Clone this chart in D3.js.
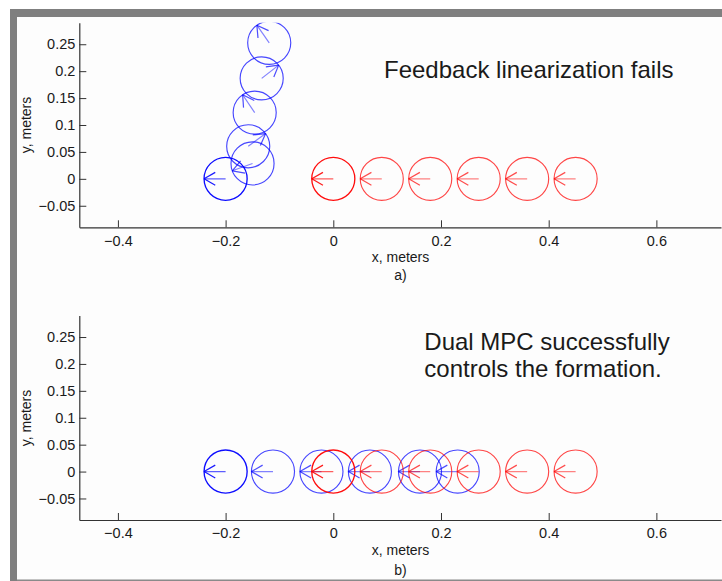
<!DOCTYPE html>
<html>
<head>
<meta charset="utf-8">
<script src="https://cdn.jsdelivr.net/npm/d3@7"></script>
<style>
  html, body { margin: 0; padding: 0; background: #ffffff; }
  svg { display: block; }
  text { font-family: "Liberation Sans", Arial, Helvetica, sans-serif; fill: #1a1a1a; }
</style>
</head>
<body>
<svg id="chart" width="722" height="581"></svg>
<script>
// ---- data ----
const xTicks = [-0.4, -0.2, 0, 0.2, 0.4, 0.6];
const yTicks = [-0.05, 0, 0.05, 0.1, 0.15, 0.2, 0.25];
const robotRadius = 0.04;

// panel a) feedback linearization
const topBlueX = [-0.2, -0.150, -0.158, -0.146, -0.133, -0.119];
const topBlueY = [0, 0.0286, 0.0605, 0.123, 0.1866, 0.2526];
const topBlueHeading = [180, 200, 36, 124, 38, 125];
const topRedX = [0, 0.09, 0.18, 0.27, 0.36, 0.45];
const topRedY = [0, 0, 0, 0, 0, 0];
const topRedHeading = [180, 180, 180, 180, 180, 180];

// panel b) dual MPC
const botBlueX = [-0.2, -0.112, -0.022, 0.068, 0.161, 0.231];
const botBlueY = [0, 0, 0, 0, 0, 0];
const botBlueHeading = [180, 180, 180, 180, 180, 180];
const botRedX = [0, 0.09, 0.18, 0.27, 0.36, 0.45];
const botRedY = [0, 0, 0, 0, 0, 0];
const botRedHeading = [180, 180, 180, 180, 180, 180];

const svg = d3.select("#chart");

// frame
svg.append("rect").attr("x", 10).attr("y", 9).attr("width", 712).attr("height", 572).attr("fill", "#fdfdfd");
svg.append("rect").attr("x", 10).attr("y", 9).attr("width", 712).attr("height", 8).attr("fill", "#7f7f7f");
svg.append("rect").attr("x", 10).attr("y", 9).attr("width", 7).attr("height", 572).attr("fill", "#7f7f7f");
svg.append("rect").attr("x", 17).attr("y", 579.5).attr("width", 705).attr("height", 1.5).attr("fill", "#8a8a8a");

const xScale = d3.scaleLinear().domain([-0.4717, 0.72]).range([79.3, 721]);
const fmt = d => (d < 0 ? "\u2212" : "") + String(Math.abs(d));

function drawPanel(cfg) {
  const yScale = d3.scaleLinear().domain([-0.09, 0.29]).range([cfg.bottom, cfg.top]);
  const g = svg.append("g");
  const clipId = "clip" + cfg.id;
  svg.append("clipPath").attr("id", clipId).append("rect")
    .attr("x", 79.3).attr("y", cfg.top).attr("width", 722 - 79.3).attr("height", cfg.bottom - cfg.top);

  // axes
  const xAxis = d3.axisBottom(xScale).tickValues(xTicks).tickSizeInner(-7).tickSizeOuter(0).tickPadding(8).tickFormat(fmt);
  const gx = g.append("g").attr("transform", `translate(0,${cfg.bottom})`).call(xAxis);
  const yAxis = d3.axisLeft(yScale).tickValues(yTicks).tickSizeInner(-7).tickSizeOuter(0).tickPadding(4).tickFormat(fmt);
  const gy = g.append("g").attr("transform", `translate(79.3,0)`).call(yAxis);
  [gx, gy].forEach(a => {
    a.select(".domain").attr("stroke", "#333").attr("stroke-width", 1.2);
    a.selectAll(".tick line").attr("stroke", "#333").attr("stroke-width", 1);
    a.selectAll(".tick text").attr("font-size", 14.5).attr("fill", "#1a1a1a")
      .attr("font-family", '"Liberation Sans", Arial, Helvetica, sans-serif');
  });

  const pxPerM = xScale(1) - xScale(0);
  const plot = g.append("g").attr("clip-path", `url(#${clipId})`);

  function robots(xs, ys, hs, color) {
    const data = xs.map((x, i) => ({x, y: ys[i], h: hs[i] * Math.PI / 180, i}));
    const grp = plot.append("g");
    grp.selectAll("circle").data(data).join("circle")
      .attr("cx", d => xScale(d.x)).attr("cy", d => yScale(d.y))
      .attr("r", robotRadius * pxPerM)
      .attr("fill", "none").attr("stroke", color)
      .attr("stroke-width", d => d.i === 0 ? 1.35 : 1.15)
      .attr("stroke-opacity", d => d.i === 0 ? 0.95 : 0.72);
    const bl = 0.6 * robotRadius, ba = Math.PI / 6;
    data.forEach(d => {
      const tx = d.x + robotRadius * Math.cos(d.h), ty = d.y + robotRadius * Math.sin(d.h);
      const op = d.i === 0 ? 0.9 : 0.7;
      grp.append("line")
        .attr("x1", xScale(d.x)).attr("y1", yScale(d.y))
        .attr("x2", xScale(tx)).attr("y2", yScale(ty))
        .attr("stroke", color).attr("stroke-width", 1.2).attr("stroke-opacity", op * 0.7);
      [-1, 1].forEach(s => {
        const a = d.h + Math.PI + s * ba;
        grp.append("line")
          .attr("x1", xScale(tx)).attr("y1", yScale(ty))
          .attr("x2", xScale(tx + bl * Math.cos(a))).attr("y2", yScale(ty + bl * Math.sin(a)))
          .attr("stroke", color).attr("stroke-width", 1.2).attr("stroke-opacity", op);
      });
    });
  }
  robots(cfg.blueX, cfg.blueY, cfg.blueH, "#0000ff");
  robots(cfg.redX, cfg.redY, cfg.redH, "#ff0000");

  // labels
  g.append("text").attr("transform", `translate(31,${cfg.yLabelY}) rotate(-90)`)
    .attr("text-anchor", "middle").attr("font-size", 14).text("y, meters");
  g.append("text").attr("x", 400.5).attr("y", cfg.xLabelY).attr("text-anchor", "middle")
    .attr("font-size", 14).text("x, meters");
  g.append("text").attr("x", 400.5).attr("y", cfg.subY).attr("text-anchor", "middle")
    .attr("font-size", 14).text(cfg.sub);
  cfg.note.forEach((line, i) => {
    g.append("text").attr("x", cfg.noteX).attr("y", cfg.noteY + i * 27.3)
      .attr("font-size", 24).text(line);
  });
}

drawPanel({
  id: "a", top: 22.7, bottom: 227.3, yLabelY: 125, xLabelY: 262, subY: 280, sub: "a)",
  blueX: topBlueX, blueY: topBlueY, blueH: topBlueHeading,
  redX: topRedX, redY: topRedY, redH: topRedHeading,
  note: ["Feedback linearization fails"], noteX: 384, noteY: 78
});
drawPanel({
  id: "b", top: 315.5, bottom: 520, yLabelY: 418, xLabelY: 555, subY: 575, sub: "b)",
  blueX: botBlueX, blueY: botBlueY, blueH: botBlueHeading,
  redX: botRedX, redY: botRedY, redH: botRedHeading,
  note: ["Dual MPC successfully", "controls the formation."], noteX: 424.3, noteY: 350
});
</script>
</body>
</html>
